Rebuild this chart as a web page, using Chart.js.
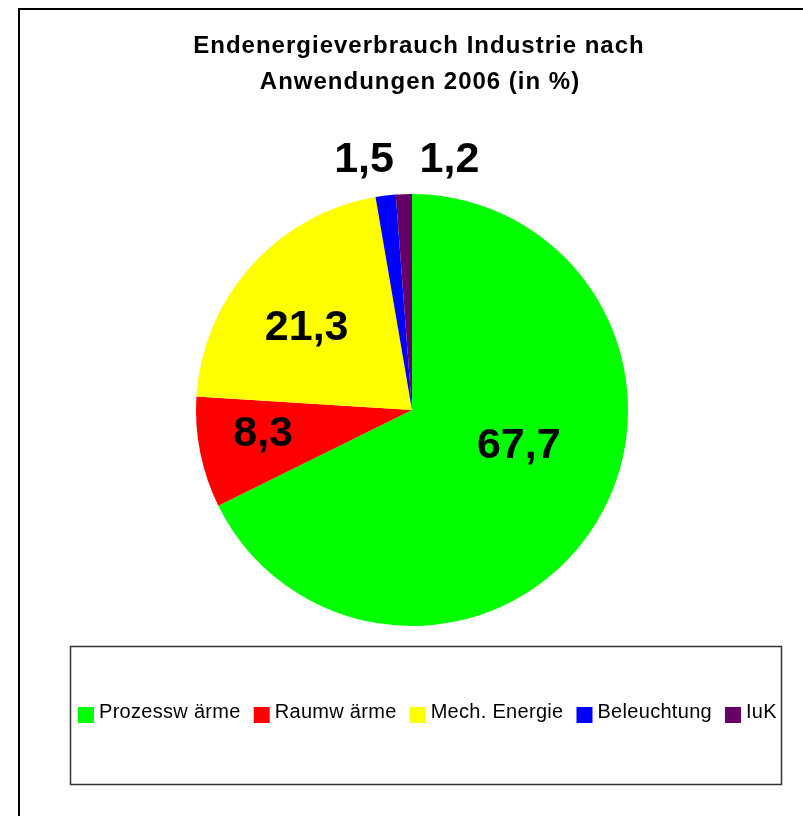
<!DOCTYPE html>
<html>
<head>
<meta charset="utf-8">
<script src="https://cdn.jsdelivr.net/npm/chart.js@4"></script>
<style>
  html, body { margin: 0; padding: 0; background: #fff; overflow: hidden; }
  canvas { display: block; }
</style>
</head>
<body>
<canvas id="pieChart" width="803" height="816"></canvas>
<script>
// chart data
const titleLines = ['Endenergieverbrauch Industrie nach', 'Anwendungen 2006 (in %)'];
const categories = ['Prozessw ärme', 'Raumw ärme', 'Mech. Energie', 'Beleuchtung', 'IuK'];
const shares = [67.7, 8.3, 21.3, 1.5, 1.2];
const sliceColors = ['#00FF00', '#FF0000', '#FFFF00', '#0000FF', '#660066'];

// label nudges relative to the slice's tooltip point (styling only)
const labelNudge = [[15, -9], [-43, 15], [-25, 2], [0, 0], [0, 0]];
const smallSliceSpread = [-17, 47];

const FONT = "'Liberation Sans', Arial, sans-serif";

function fmt(v) {
    return v.toFixed(1).replace('.', ',');
}

const decorations = {
    id: 'decorations',
    afterDraw(chart) {
        const ctx = chart.ctx;
        ctx.save();

        // outer frame (runs off the page right and bottom)
        ctx.strokeStyle = '#000';
        ctx.lineWidth = 2;
        ctx.strokeRect(19, 9, 900, 900);

        // title
        ctx.fillStyle = '#000';
        ctx.font = 'bold 24px ' + FONT;
        ctx.letterSpacing = '1px';
        ctx.textAlign = 'center';
        ctx.textBaseline = 'alphabetic';
        ctx.fillText(titleLines[0], 419, 53);
        ctx.fillText(titleLines[1], 420, 89);

        // value labels
        const meta = chart.getDatasetMeta(0);
        ctx.letterSpacing = '0px';
        ctx.font = 'bold 43px ' + FONT;
        let small = 0;
        meta.data.forEach((arc, i) => {
            let x, y;
            if (shares[i] < 5) {
                // tiny slices: label sits above the pie
                const mid = (arc.startAngle + arc.endAngle) / 2;
                const rr = arc.outerRadius + 37;
                x = arc.x + Math.cos(mid) * rr + smallSliceSpread[small++];
                y = arc.y - arc.outerRadius - 22;
            } else {
                const p = arc.tooltipPosition();
                x = p.x + labelNudge[i][0];
                y = p.y + labelNudge[i][1];
            }
            ctx.fillText(fmt(shares[i]), x, y);
        });

        // legend box
        ctx.strokeStyle = '#333';
        ctx.lineWidth = 1.5;
        ctx.strokeRect(70.5, 646.5, 711, 138);

        ctx.font = '20px ' + FONT;
        ctx.letterSpacing = '0.3px';
        ctx.textAlign = 'left';
        let lx = 78;
        categories.forEach((name, i) => {
            ctx.fillStyle = sliceColors[i];
            ctx.fillRect(lx, 707, 16, 16);
            ctx.fillStyle = '#000';
            ctx.fillText(name, lx + 21, 718);
            lx += 21 + ctx.measureText(name).width + 13;
        });

        ctx.restore();
    }
};

new Chart(document.getElementById('pieChart'), {
    type: 'pie',
    data: {
        labels: categories,
        datasets: [{
            data: shares,
            backgroundColor: sliceColors,
            borderWidth: 0
        }]
    },
    options: {
        responsive: false,
        animation: false,
        layout: {
            padding: { left: 196, right: 175, top: 194, bottom: 190 }
        },
        plugins: {
            legend: { display: false },
            title: { display: false },
            tooltip: { enabled: false }
        }
    },
    plugins: [decorations]
});
</script>
</body>
</html>
